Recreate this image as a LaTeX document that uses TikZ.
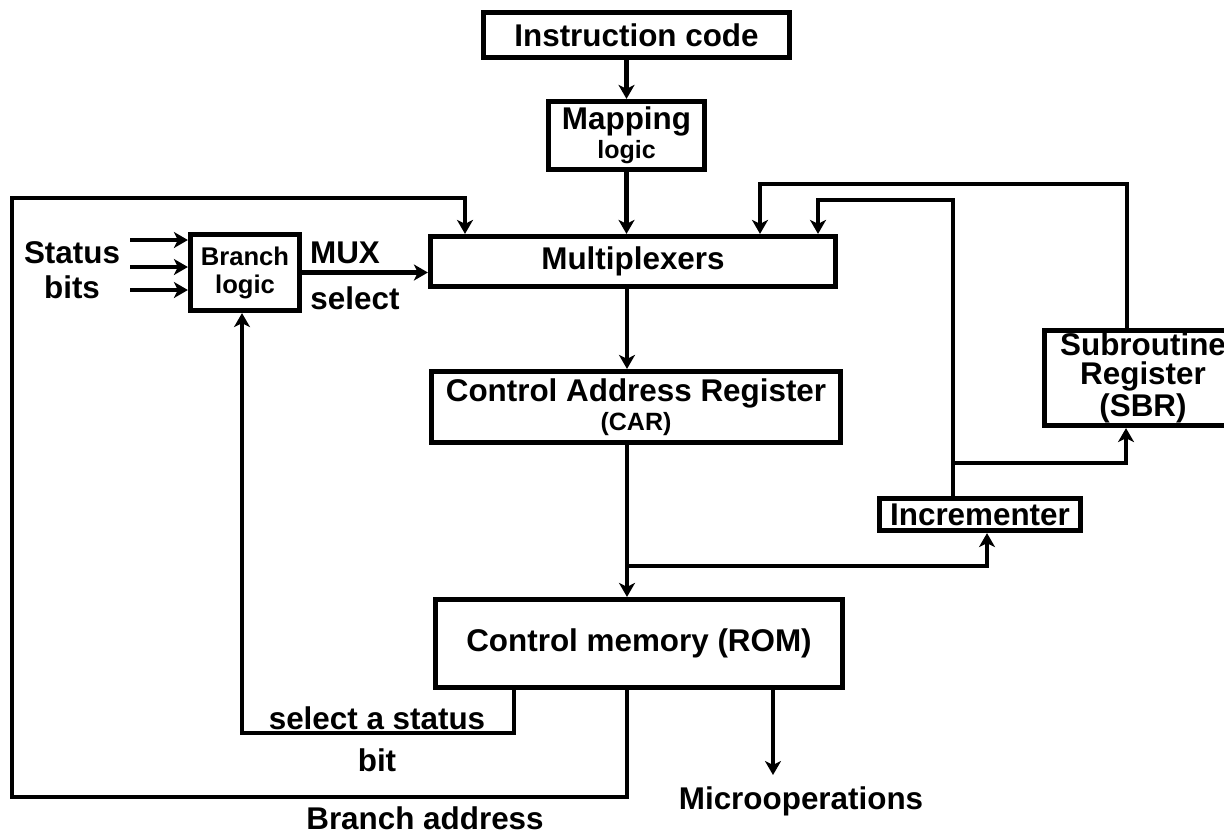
\documentclass[tikz,border=0pt]{standalone}
\usepackage{fontspec}
\setmainfont{Liberation Sans}
\usetikzlibrary{arrows.meta}

\newcommand\smtxt{\fontsize{12.5}{15}\selectfont}

\begin{document}
\begin{tikzpicture}[
  x=0.5pt, y=-0.5pt,
  >={Stealth[length=7pt,width=8pt,inset=2pt]},
  arr/.style={->, line width=2.4pt},
  blk/.style={draw, line width=2.6pt, inner sep=0pt, align=center, font=\fontsize{15.7}{14.5}\selectfont\bfseries},
  lbl/.style={inner sep=0pt, align=center, font=\fontsize{15.7}{17.5}\selectfont\bfseries},
]
\useasboundingbox (0,0) rectangle (1224,837);

\def\spine{627}

\node[blk, minimum width=153pt, minimum height=22.5pt] (ic) at (636.5,35) {Instruction code};
\node[blk, minimum width=78pt, minimum height=34pt] (map) at (626.5,135.5) {Mapping\\{\smtxt logic}};
\node[blk, minimum width=202.5pt, minimum height=25pt] (mux) at (633,261.5) {Multiplexers};
\node[blk, minimum width=54.5pt, minimum height=38pt, font=\fontsize{12.8}{14}\selectfont\bfseries] (bl) at (245,272.5) {Branch\\logic};
\node[blk, minimum width=204.5pt, minimum height=35.5pt] (car) at (636,407) {Control Address Register\\{\smtxt (CAR)}};
\node[blk, minimum width=203.5pt, minimum height=44pt] (rom) at (639,643.5) {Control memory (ROM)};
\node[blk, minimum width=100.5pt, minimum height=16pt] (inc) at (980,514.5) {Incrementer};
\node[blk, minimum width=98.5pt, minimum height=47.5pt] (sbr) at (1143,378) {Subroutine\\Register\\(SBR)};

\node[lbl] (stat) at (72,270.5) {Status\\bits};
\node[lbl] (muxsel) at (345,253) {MUX};
\node[lbl] (sel) at (355,298) {select};
\node[lbl] (selst) at (377,718) {select a status};
\node[lbl] (bit) at (377,760) {bit};
\node[lbl] (braddr) at (425,818) {Branch address};
\node[lbl] (micro) at (801,801) {Microoperations};

\draw[arr] (map.north |- ic.south) -- (map.north);
\draw[arr] (map.south) -- (map.south |- mux.north);
\draw[arr] (\spine,0 |- mux.south) -- (\spine,0 |- car.north);
\draw[arr] (\spine,0 |- car.south) -- (\spine,0 |- rom.north);

\foreach \y in {240,267,290}
  \draw[arr] (130,\y) -- (bl.west |- 0,\y);
\draw[arr] (bl.east) -- (bl.east -| mux.west);

% branch address
\draw[arr] (\spine,0 |- rom.south) -- (\spine,797) -- (12,797) -- (12,198) -- (465,198) -- (465,0 |- mux.north);

% select a status bit
\draw[arr] (514,0 |- rom.south) |- (242,733) -- (242,0 |- bl.south);

\draw[arr] (773,0 |- rom.south) -- (773,775);

% incrementer and subroutine register
\coordinate (j1) at (\spine,566);
\coordinate (j2) at (953,463);
\draw[arr] (j1) -| (987,0 |- inc.south);
\draw[arr] (953,0 |- inc.north) |- (818,200) -- (818,0 |- mux.north);
\draw[arr] (j2) -| (1126,0 |- sbr.south);
\draw[arr] (1127,0 |- sbr.north) |- (760,184) -- (760,0 |- mux.north);

\end{tikzpicture}
\end{document}
